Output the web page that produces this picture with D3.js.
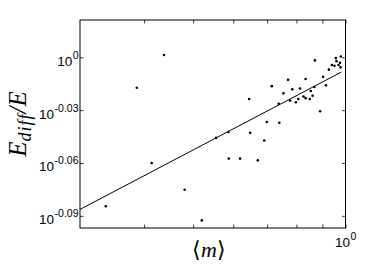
<!DOCTYPE html>
<html><head><meta charset="utf-8">
<script src="https://cdn.jsdelivr.net/npm/d3@7"></script>
<style>
html,body{margin:0;padding:0;background:#fff;}
svg{display:block;}
</style></head>
<body>
<svg id="chart" width="382" height="273"></svg>
<script>
// ---- data ----
const meanM = [0.336,0.387,0.414,0.438,0.481,0.520,0.555,0.587,0.588,0.619,
  0.645,0.648,0.671,0.691,0.699,0.715,0.738,0.740,0.754,0.770,
  0.777,0.785,0.798,0.807,0.813,0.826,0.834,0.834,0.850,0.854,
  0.861,0.868,0.870,0.891,0.903,0.915,0.927,0.940,0.951,0.957,
  0.960,0.969,0.975,0.978,0.979];
const eRatio = [0.823,0.961,0.871,1.003,0.841,0.808,0.900,0.907,0.876,0.876,
  0.947,0.906,0.874,0.897,0.919,0.963,0.941,0.918,0.954,0.971,
  0.945,0.959,0.943,0.947,0.960,0.950,0.972,0.948,0.947,0.957,
  0.951,0.962,0.996,0.932,0.975,0.964,0.984,0.990,0.989,0.999,
  0.995,0.990,0.993,0.987,1.001];
// power-law fit: E_diff/E = fitCoef * <m>^fitExp
const fitCoef = 0.9837;
const fitExp = 0.151;
const fitRange = [0.2988, 0.981];
const yTickExps = ["0", "-0.03", "-0.06", "-0.09"];
const xMinorTicks = [0.4, 0.5, 0.6, 0.7, 0.8, 0.9];
const xTickExps = ["0"];

// ---- layout ----
const L = 80, R = 345.5, T = 20, B = 228;
const svg = d3.select("#chart");
const x = d3.scaleLog().domain([0.2988, 1]).range([L, R]);
const y = d3.scaleLog().domain([0.8, 1.05]).range([B, T]);

const tickLen = 3.5;
const yTickVals = yTickExps.map(e => Math.pow(10, +e));
const axL = d3.axisLeft(y).tickValues(yTickVals).tickSize(-tickLen).tickFormat("");
const axR = d3.axisRight(y).tickValues(yTickVals).tickSize(-tickLen).tickFormat("");
const xTickVals = xMinorTicks.concat(xTickExps.map(e => Math.pow(10, +e)));
const axB = d3.axisBottom(x).tickValues(xTickVals).tickSize(-tickLen).tickFormat("");
const axT = d3.axisTop(x).tickValues(xTickVals).tickSize(-tickLen).tickFormat("");

function styleAxis(g){
  g.select(".domain").remove();
  g.selectAll(".tick line").attr("stroke","#000").attr("stroke-width",0.8);
}
svg.append("g").attr("transform",`translate(${L},0)`).call(axL).call(styleAxis);
svg.append("g").attr("transform",`translate(${R},0)`).call(axR).call(styleAxis);
svg.append("g").attr("transform",`translate(0,${B})`).call(axB).call(styleAxis);
svg.append("g").attr("transform",`translate(0,${T})`).call(axT).call(styleAxis);

// frame
svg.append("rect").attr("x",L).attr("y",T).attr("width",R-L).attr("height",B-T)
  .attr("fill","none").attr("stroke","#000").attr("stroke-width",1);

// power-of-ten label helper: base "10" + superscript, right edge at xr
const FONT = "Liberation Sans, Arial, sans-serif";
function powLabel(g, xr, yb, exp, anchorRight){
  const sup = g.append("text").attr("font-family",FONT).attr("font-size",10.5).attr("fill","#000")
    .text(exp.replace("-","-"));
  const base = g.append("text").attr("font-family",FONT).attr("font-size",13.5).attr("fill","#000").text("10");
  const ws = sup.node().getComputedTextLength();
  const wb = base.node().getComputedTextLength();
  const x0 = anchorRight ? xr - ws - wb : xr;
  base.attr("x", x0).attr("y", yb);
  sup.attr("x", x0 + wb + 0.5).attr("y", yb - 7);
}
const lab = svg.append("g");
yTickExps.forEach(e => powLabel(lab, L - 2, y(Math.pow(10, +e)) + 8.5, e, true));
xTickExps.forEach(e => powLabel(lab, x(Math.pow(10, +e)) - 10.5, B + 19, e, false));

// fit line
const fitPts = fitRange.map(m => [m, fitCoef * Math.pow(m, fitExp)]);
svg.append("path")
  .attr("d", d3.line().x(d => x(d[0])).y(d => y(d[1]))(fitPts))
  .attr("fill","none").attr("stroke","#000").attr("stroke-width",1);

// points
svg.append("g").selectAll("circle").data(meanM).join("circle")
  .attr("cx", d => x(d)).attr("cy", (d,i) => y(eRatio[i])).attr("r", 1.3).attr("fill","#000");

// axis titles
const yt = svg.append("text").attr("transform","translate(26,124) rotate(-90)")
  .attr("text-anchor","middle").attr("font-family","Liberation Serif, serif").attr("font-style","italic")
  .attr("font-size",25).attr("fill","#000");
yt.append("tspan").text("E");
yt.append("tspan").attr("dy",5).attr("font-size",18).attr("letter-spacing",1).text("diff");
yt.append("tspan").attr("dy",-5).text("/E");

svg.append("text").attr("x",209).attr("y",257).attr("text-anchor","middle")
  .attr("font-family","Liberation Serif, serif").attr("font-size",22).attr("fill","#000")
  .html('\u27E8<tspan font-style="italic">m</tspan>\u27E9');
</script>
</body></html>
